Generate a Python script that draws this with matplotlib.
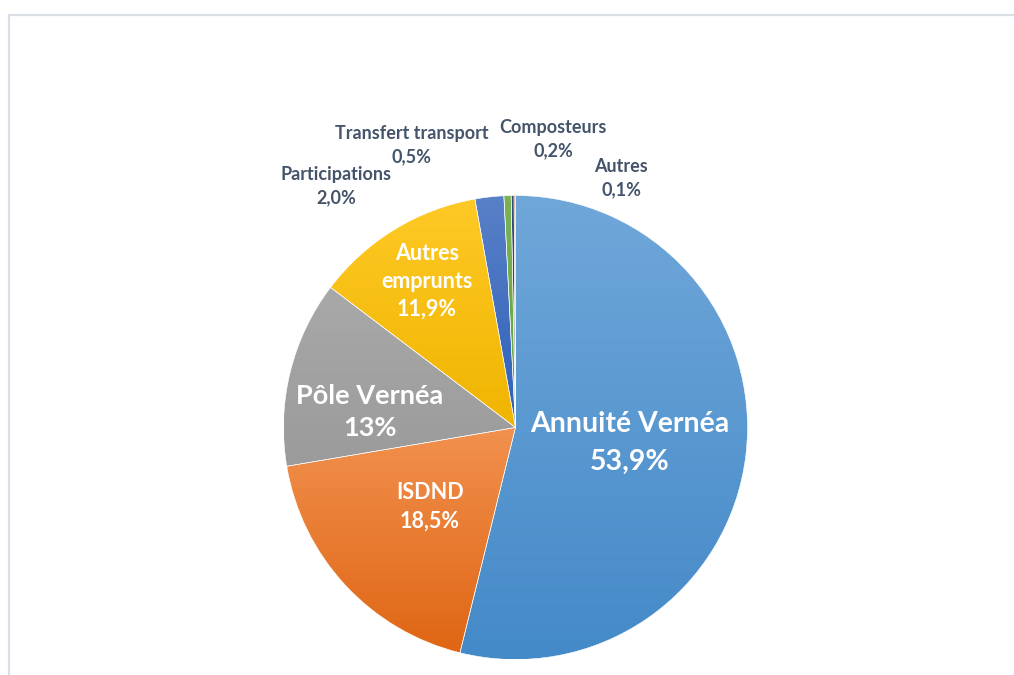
import matplotlib.pyplot as plt
import numpy as np
from matplotlib.colors import to_rgb, rgb_to_hsv, hsv_to_rgb
from matplotlib.patches import Rectangle

# donnees
categories = ['Annuité Vernéa', 'ISDND', 'Pôle Vernéa', 'Autres\nemprunts',
              'Participations', 'Transfert transport', 'Composteurs', 'Autres']
valeurs = [53.9, 18.5, 13.0, 11.9, 2.0, 0.5, 0.2, 0.1]
etiquettes_pct = ['53,9%', '18,5%', '13%', '11,9%', '2,0%', '0,5%', '0,2%', '0,1%']
couleurs = ['#5b9bd5', '#ed7d31', '#a5a5a5', '#ffc000',
            '#4472c4', '#70ad47', '#264478', '#9e480e']

# mise en page des etiquettes (pixels image: x, y depuis le haut), taille, interligne
pos_labels = [(630, 443), (430, 507), (370, 412), (427, 281),
              (336, 186), (412, 145), (553, 139), (621, 178)]
tailles = [20.5, 15.5, 19.5, 15.5, 13, 13, 13, 13]
interlignes = [1.55, 1.45, 1.45, 1.4, 1.4, 1.4, 1.4, 1.4]
col_txt = ['white'] * 4 + ['#44546a'] * 4

W, H = 1014, 675
fig = plt.figure(figsize=(W / 100, H / 100), dpi=100)
ax = fig.add_axes([0, 0, 1, 1])

# cadre gris clair
fig.patches.append(Rectangle((9 / W, -0.1), 1.2, (H - 15) / H + 0.1, transform=fig.transFigure,
                             fill=False, edgecolor='#dadfe6', linewidth=1.6))

cx, cy, R = 515.5, H - 427.5, 232
wedges, _ = ax.pie(valeurs, center=(cx, cy), radius=R, startangle=90, counterclock=False,
                   colors=couleurs, frame=True,
                   wedgeprops=dict(edgecolor='white', linewidth=0.4))


def degrade(c):
    h, s, v = rgb_to_hsv(np.array(to_rgb(c)))
    haut = hsv_to_rgb([h, s * 0.85, min(1, v * 1.02)])
    bas = hsv_to_rgb([h, min(1, s * 1.15), v * 0.94])
    t = np.linspace(0, 1, 256)[:, None]
    return (haut * (1 - t) + bas * t)[:, None, :]


for w, c in zip(wedges, couleurs):
    ext = w.get_path().get_extents()
    w.set_facecolor('none')
    w.set_zorder(2)
    im = ax.imshow(degrade(c), extent=[ext.x0, ext.x1, ext.y0, ext.y1],
                   origin='upper', aspect='auto', zorder=1, interpolation='bilinear')
    im.set_clip_path(w)

ax.set_xlim(0, W)
ax.set_ylim(0, H)
ax.axis('off')

for cat, pct, (x, y), fs, ls, col in zip(categories, etiquettes_pct, pos_labels,
                                         tailles, interlignes, col_txt):
    ax.text(x, H - y, cat + '\n' + pct, ha='center', va='center', fontsize=fs,
            color=col, fontweight='bold', family=['Lato', 'DejaVu Sans'],
            linespacing=ls, zorder=5)

fig.savefig('out.png', dpi=100, facecolor='white')
